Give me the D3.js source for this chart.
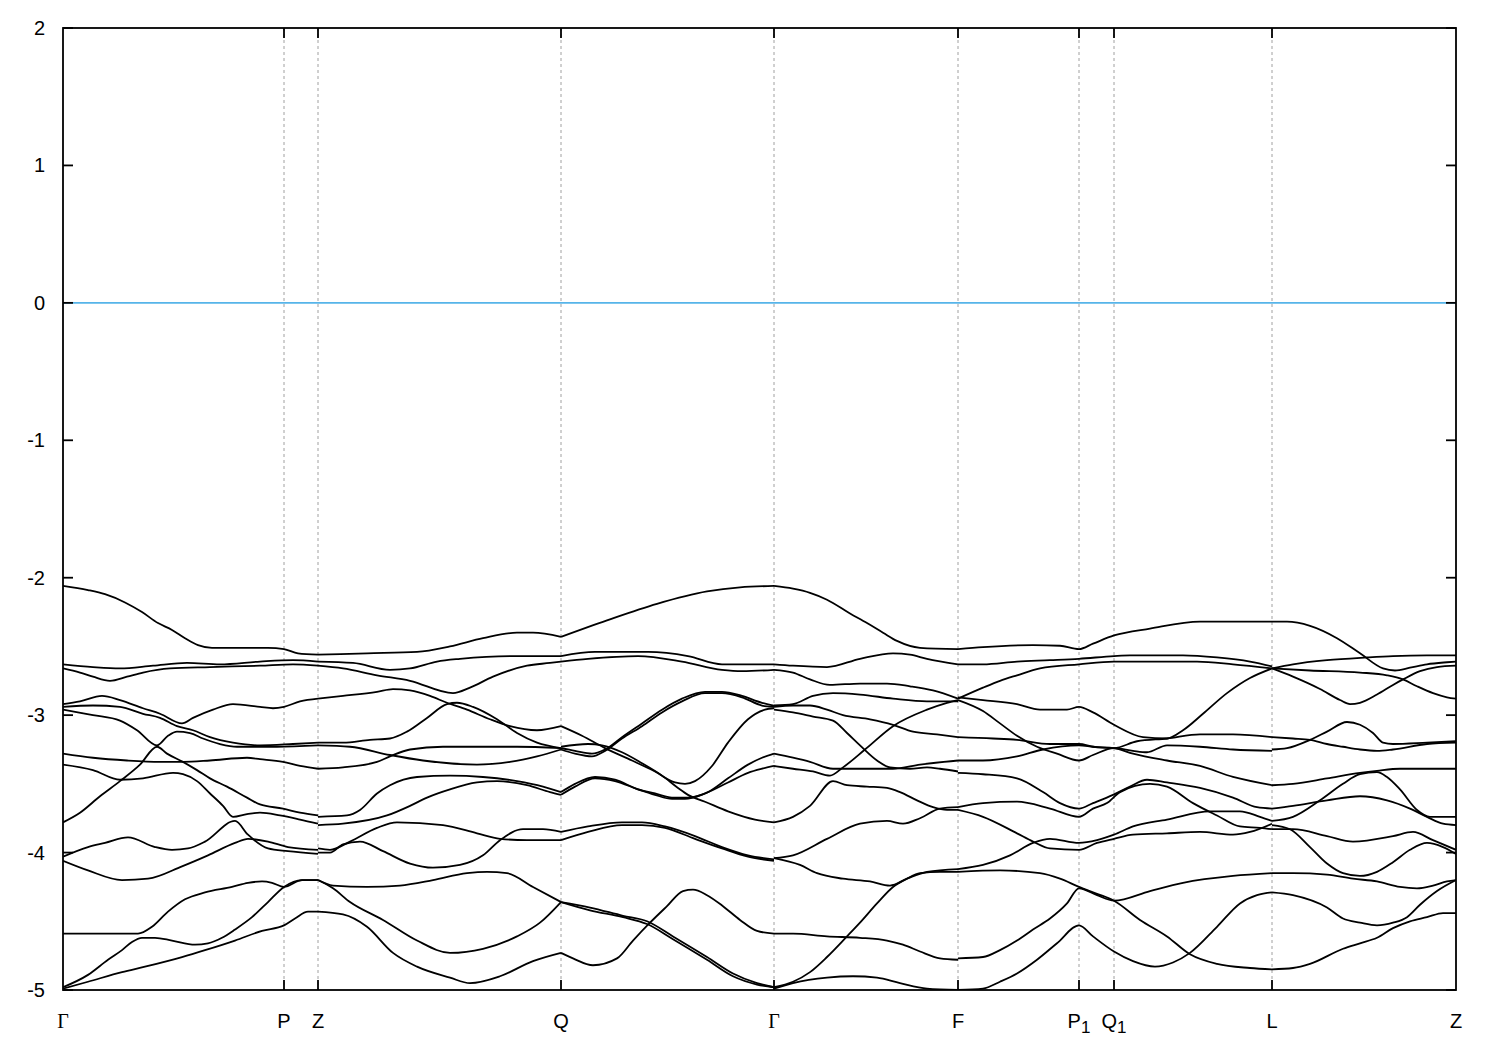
<!DOCTYPE html>
<html>
<head>
<meta charset="utf-8">
<script src="https://cdn.jsdelivr.net/npm/d3@7"></script>
<style>
  html, body { margin: 0; padding: 0; background: #fff; }
  svg { display: block; }
</style>
</head>
<body>
<svg id="chart" width="1500" height="1050"></svg>
<script>
// High-symmetry points along the k-path (path distance, arbitrary units)
const kTicks = [0, 221, 255, 498, 711, 895, 1016, 1051, 1209, 1393];
const kLabels = ["Γ", "P", "Z", "Q", "Γ", "F", "P1", "Q1", "L", "Z"];
const yTicks = [2, 1, 0, -1, -2, -3, -4, -5];
const fermiLevel = 0;

// Band energies (eV) as [k, E] pairs, grouped by path segment
const bandsGammaZ = [
  [[0,-2.06],[25,-2.09],[42,-2.12],[62,-2.18],[79,-2.25],[95,-2.33],[109,-2.38],[122,-2.44],[135,-2.49],[149,-2.51],[205,-2.51],[221,-2.52],[235,-2.55],[255,-2.56]],
  [[0,-2.63],[30,-2.65],[57,-2.66],[90,-2.64],[124,-2.62],[157,-2.63],[197,-2.61],[230,-2.60],[255,-2.61]],
  [[0,-2.66],[17,-2.69],[30,-2.72],[47,-2.75],[64,-2.72],[80,-2.69],[107,-2.66],[147,-2.65],[197,-2.64],[230,-2.63],[255,-2.64]],
  [[0,-2.92],[17,-2.90],[39,-2.86],[57,-2.89],[80,-2.95],[97,-2.99],[119,-3.06],[130,-3.02],[150,-2.96],[170,-2.92],[197,-2.94],[210,-2.95],[221,-2.94],[237,-2.90],[255,-2.88]],
  [[0,-2.94],[30,-2.93],[57,-2.94],[80,-2.99],[97,-3.02],[114,-3.08],[130,-3.11],[147,-3.16],[170,-3.20],[197,-3.22],[230,-3.21],[255,-3.20]],
  [[0,-2.96],[30,-3.00],[57,-3.04],[74,-3.11],[94,-3.22],[105,-3.15],[114,-3.12],[127,-3.13],[140,-3.17],[157,-3.21],[174,-3.23],[214,-3.23],[255,-3.22]],
  [[0,-3.78],[17,-3.71],[37,-3.59],[57,-3.48],[77,-3.36],[94,-3.23],[104,-3.28],[120,-3.34],[134,-3.40],[147,-3.46],[164,-3.52],[184,-3.60],[197,-3.65],[220,-3.68],[237,-3.71],[255,-3.73]],
  [[0,-3.28],[30,-3.31],[64,-3.33],[97,-3.34],[120,-3.34],[147,-3.33],[184,-3.31],[197,-3.32],[220,-3.34],[237,-3.37],[255,-3.39]],
  [[0,-3.36],[30,-3.40],[57,-3.47],[80,-3.46],[110,-3.42],[120,-3.43],[134,-3.48],[147,-3.57],[160,-3.66],[170,-3.74],[184,-3.72],[197,-3.71],[217,-3.73],[237,-3.76],[255,-3.79]],
  [[0,-4.03],[25,-3.96],[42,-3.93],[65,-3.89],[92,-3.96],[109,-3.98],[125,-3.97],[142,-3.92],[172,-3.77],[185,-3.87],[205,-3.97],[225,-3.99],[255,-4.01]],
  [[0,-4.06],[25,-4.13],[59,-4.20],[85,-4.19],[119,-4.10],[145,-4.02],[172,-3.93],[185,-3.90],[205,-3.92],[225,-3.96],[255,-3.98]],
  [[0,-4.59],[75,-4.59],[89,-4.54],[105,-4.43],[122,-4.34],[142,-4.29],[169,-4.25],[185,-4.22],[199,-4.21],[209,-4.22],[221,-4.25],[239,-4.20],[255,-4.20]],
  [[0,-4.98],[25,-4.89],[45,-4.78],[59,-4.71],[69,-4.65],[79,-4.62],[92,-4.62],[109,-4.64],[132,-4.67],[145,-4.66],[159,-4.62],[172,-4.56],[189,-4.47],[205,-4.36],[221,-4.25],[239,-4.20],[255,-4.20]],
  [[0,-4.99],[25,-4.94],[59,-4.87],[82,-4.83],[119,-4.76],[142,-4.71],[172,-4.64],[199,-4.57],[221,-4.53],[232,-4.48],[245,-4.43],[255,-4.43]]
];

const bandsZQ = [
  [[255,-2.56],[304,-2.55],[354,-2.54],[387,-2.50],[420,-2.44],[454,-2.40],[470,-2.40],[498,-2.43]],
  [[255,-2.61],[290,-2.62],[327,-2.67],[347,-2.66],[374,-2.61],[397,-2.59],[447,-2.57],[498,-2.57]],
  [[255,-2.64],[280,-2.66],[314,-2.71],[347,-2.75],[390,-2.84],[407,-2.80],[430,-2.72],[464,-2.64],[487,-2.62],[498,-2.61]],
  [[255,-2.88],[280,-2.86],[314,-2.83],[330,-2.81],[347,-2.82],[367,-2.86],[384,-2.91],[404,-2.96],[427,-3.03],[447,-3.08],[474,-3.11],[498,-3.08]],
  [[255,-3.20],[280,-3.20],[307,-3.18],[327,-3.17],[344,-3.12],[364,-3.02],[384,-2.92],[394,-2.91],[410,-2.94],[434,-3.03],[454,-3.13],[474,-3.20],[498,-3.24]],
  [[255,-3.22],[287,-3.23],[327,-3.29],[360,-3.33],[414,-3.36],[447,-3.34],[474,-3.30],[498,-3.25]],
  [[255,-3.39],[280,-3.38],[314,-3.34],[327,-3.30],[347,-3.25],[380,-3.23],[420,-3.23],[454,-3.23],[498,-3.24]],
  [[255,-3.74],[284,-3.73],[297,-3.69],[314,-3.57],[327,-3.51],[354,-3.45],[387,-3.44],[420,-3.45],[454,-3.48],[480,-3.52],[498,-3.56]],
  [[255,-3.80],[280,-3.79],[324,-3.73],[347,-3.66],[364,-3.60],[387,-3.54],[414,-3.49],[434,-3.48],[464,-3.51],[487,-3.56],[498,-3.58]],
  [[255,-3.97],[267,-3.98],[287,-3.92],[314,-3.82],[334,-3.78],[380,-3.80],[414,-3.86],[437,-3.90],[464,-3.91],[498,-3.91]],
  [[255,-4.00],[267,-4.00],[280,-3.94],[297,-3.92],[320,-3.99],[347,-4.08],[370,-4.11],[397,-4.09],[420,-4.02],[437,-3.91],[460,-3.83],[480,-3.83],[498,-3.85]],
  [[255,-4.20],[270,-4.24],[304,-4.25],[337,-4.24],[370,-4.20],[404,-4.15],[424,-4.14],[444,-4.15],[470,-4.25],[498,-4.36]],
  [[255,-4.20],[270,-4.26],[287,-4.36],[320,-4.49],[354,-4.64],[387,-4.73],[420,-4.70],[454,-4.61],[477,-4.51],[498,-4.36]],
  [[255,-4.43],[280,-4.45],[304,-4.54],[330,-4.73],[354,-4.83],[387,-4.91],[407,-4.95],[437,-4.90],[470,-4.79],[498,-4.73]]
];

const bandsQGamma = [
  [[498,-2.43],[544,-2.31],[594,-2.19],[644,-2.10],[677,-2.07],[711,-2.06]],
  [[498,-2.57],[532,-2.54],[585,-2.54],[625,-2.57],[659,-2.63],[692,-2.63],[711,-2.63]],
  [[498,-2.61],[525,-2.59],[575,-2.57],[619,-2.61],[659,-2.67],[679,-2.68],[711,-2.67]],
  [[498,-3.08],[519,-3.15],[542,-3.24],[569,-3.33],[592,-3.41],[612,-3.49],[622,-3.50],[632,-3.48],[649,-3.37],[665,-3.20],[685,-3.03],[702,-2.96],[711,-2.95]],
  [[498,-3.23],[525,-3.21],[539,-3.22],[559,-3.27],[579,-3.35],[599,-3.44],[615,-3.53],[625,-3.58],[642,-3.63],[665,-3.70],[692,-3.76],[711,-3.78]],
  [[498,-3.24],[512,-3.26],[529,-3.28],[542,-3.25],[559,-3.16],[579,-3.06],[599,-2.96],[619,-2.88],[642,-2.83],[659,-2.83],[679,-2.86],[699,-2.91],[711,-2.93]],
  [[498,-3.25],[512,-3.28],[529,-3.30],[542,-3.26],[559,-3.17],[579,-3.08],[599,-2.98],[619,-2.90],[642,-2.84],[659,-2.84],[679,-2.87],[699,-2.93],[711,-2.94]],
  [[498,-3.56],[512,-3.50],[532,-3.45],[552,-3.47],[575,-3.54],[592,-3.57],[609,-3.60],[625,-3.60],[645,-3.56],[665,-3.46],[685,-3.36],[699,-3.31],[711,-3.28]],
  [[498,-3.58],[512,-3.52],[532,-3.46],[552,-3.48],[575,-3.54],[592,-3.58],[609,-3.61],[622,-3.61],[642,-3.57],[665,-3.49],[685,-3.42],[699,-3.39],[711,-3.37]],
  [[498,-3.85],[525,-3.81],[559,-3.78],[579,-3.78],[602,-3.81],[632,-3.88],[659,-3.96],[685,-4.02],[711,-4.05]],
  [[498,-3.91],[525,-3.85],[559,-3.80],[579,-3.80],[602,-3.82],[632,-3.90],[659,-3.97],[685,-4.03],[711,-4.06]],
  [[498,-4.36],[527,-4.40],[560,-4.46],[584,-4.50],[610,-4.61],[644,-4.76],[670,-4.88],[694,-4.95],[711,-4.98]],
  [[498,-4.36],[527,-4.42],[560,-4.47],[584,-4.52],[610,-4.63],[644,-4.78],[670,-4.90],[694,-4.96],[711,-4.98]],
  [[498,-4.73],[510,-4.77],[530,-4.82],[554,-4.77],[570,-4.64],[587,-4.51],[604,-4.39],[620,-4.28],[630,-4.27],[644,-4.31],[660,-4.39],[677,-4.49],[694,-4.57],[711,-4.59]]
];

const bandsGammaF = [
  [[711,-2.06],[730,-2.08],[747,-2.11],[764,-2.16],[787,-2.26],[804,-2.33],[820,-2.40],[834,-2.46],[857,-2.51],[895,-2.52]],
  [[711,-2.63],[730,-2.64],[764,-2.65],[797,-2.59],[830,-2.55],[847,-2.56],[864,-2.59],[895,-2.63]],
  [[711,-2.67],[730,-2.69],[747,-2.74],[767,-2.78],[797,-2.77],[824,-2.77],[847,-2.79],[870,-2.82],[895,-2.88]],
  [[711,-2.93],[730,-2.92],[750,-2.86],[770,-2.84],[797,-2.85],[830,-2.88],[864,-2.90],[895,-2.90]],
  [[711,-2.94],[730,-2.93],[747,-2.93],[764,-2.96],[780,-3.00],[807,-3.03],[830,-3.07],[850,-3.12],[874,-3.14],[895,-3.16]],
  [[711,-2.96],[730,-2.98],[750,-3.01],[770,-3.04],[784,-3.13],[797,-3.22],[814,-3.33],[827,-3.38],[847,-3.39],[864,-3.38],[877,-3.39],[895,-3.41]],
  [[711,-3.37],[730,-3.39],[750,-3.41],[767,-3.44],[780,-3.38],[802,-3.25],[830,-3.08],[864,-2.96],[884,-2.91],[895,-2.89]],
  [[711,-3.28],[730,-3.31],[747,-3.34],[770,-3.39],[797,-3.39],[830,-3.39],[857,-3.36],[895,-3.33]],
  [[711,-3.78],[730,-3.74],[747,-3.66],[770,-3.48],[784,-3.51],[804,-3.52],[824,-3.53],[837,-3.56],[854,-3.62],[870,-3.67],[884,-3.69],[895,-3.69]],
  [[711,-4.04],[730,-4.02],[764,-3.90],[797,-3.79],[824,-3.77],[840,-3.79],[857,-3.75],[877,-3.68],[895,-3.67]],
  [[711,-4.04],[737,-4.09],[754,-4.15],[780,-4.19],[807,-4.21],[827,-4.24],[844,-4.19],[864,-4.14],[895,-4.12]],
  [[711,-4.98],[730,-4.94],[747,-4.87],[764,-4.76],[784,-4.61],[797,-4.51],[814,-4.37],[830,-4.25],[844,-4.19],[857,-4.15],[877,-4.14],[895,-4.14]],
  [[711,-4.59],[730,-4.59],[764,-4.61],[797,-4.62],[824,-4.64],[840,-4.67],[857,-4.72],[877,-4.77],[895,-4.78]],
  [[711,-4.99],[730,-4.95],[764,-4.91],[790,-4.90],[814,-4.91],[837,-4.95],[864,-4.99],[895,-5.00]]
];

const bandsFL = [
  [[895,-2.52],[920,-2.505],[970,-2.49],[997,-2.495],[1016,-2.52],[1030,-2.48],[1051,-2.42],[1087,-2.37],[1137,-2.32],[1209,-2.32]],
  [[895,-2.63],[920,-2.63],[954,-2.61],[987,-2.60],[1016,-2.59],[1051,-2.57],[1067,-2.565],[1120,-2.565],[1154,-2.58],[1187,-2.61],[1209,-2.645]],
  [[895,-2.88],[920,-2.80],[937,-2.75],[954,-2.71],[977,-2.66],[1016,-2.63],[1051,-2.61],[1087,-2.61],[1134,-2.61],[1170,-2.63],[1209,-2.66]],
  [[895,-2.87],[920,-2.89],[954,-2.92],[977,-2.96],[1004,-2.96],[1016,-2.94],[1030,-2.98],[1051,-3.07],[1080,-3.16],[1104,-3.17],[1120,-3.11],[1140,-2.99],[1164,-2.84],[1187,-2.73],[1209,-2.66]],
  [[895,-2.89],[920,-2.97],[937,-3.06],[954,-3.15],[974,-3.23],[994,-3.28],[1016,-3.33],[1030,-3.29],[1051,-3.24],[1070,-3.26],[1084,-3.27],[1104,-3.22],[1137,-3.23],[1170,-3.25],[1209,-3.26]],
  [[895,-3.16],[930,-3.17],[954,-3.18],[987,-3.21],[1016,-3.21],[1030,-3.23],[1051,-3.24],[1070,-3.28],[1104,-3.33],[1137,-3.37],[1170,-3.45],[1209,-3.51]],
  [[895,-3.33],[920,-3.33],[954,-3.30],[980,-3.25],[1016,-3.22],[1030,-3.23],[1051,-3.24],[1074,-3.19],[1104,-3.17],[1137,-3.14],[1170,-3.14],[1209,-3.16]],
  [[895,-3.42],[920,-3.43],[954,-3.46],[980,-3.56],[997,-3.64],[1016,-3.68],[1030,-3.64],[1050,-3.58],[1067,-3.52],[1084,-3.47],[1104,-3.49],[1137,-3.53],[1170,-3.60],[1194,-3.67],[1209,-3.68]],
  [[895,-3.67],[920,-3.64],[954,-3.63],[987,-3.68],[1016,-3.74],[1030,-3.68],[1044,-3.64],[1057,-3.56],[1087,-3.50],[1104,-3.52],[1130,-3.64],[1154,-3.73],[1177,-3.81],[1197,-3.82],[1209,-3.83]],
  [[895,-3.69],[920,-3.74],[954,-3.86],[970,-3.92],[987,-3.97],[1016,-3.98],[1034,-3.93],[1051,-3.90],[1070,-3.87],[1104,-3.86],[1137,-3.85],[1170,-3.87],[1187,-3.85],[1209,-3.79]],
  [[895,-4.12],[920,-4.09],[947,-4.02],[970,-3.93],[987,-3.90],[1016,-3.93],[1034,-3.91],[1051,-3.87],[1070,-3.81],[1104,-3.76],[1147,-3.70],[1177,-3.70],[1197,-3.74],[1209,-3.77]],
  [[895,-4.14],[937,-4.13],[977,-4.15],[997,-4.19],[1016,-4.25],[1034,-4.30],[1051,-4.35],[1077,-4.49],[1104,-4.61],[1127,-4.74],[1154,-4.81],[1187,-4.84],[1209,-4.85]],
  [[895,-4.77],[920,-4.76],[937,-4.71],[954,-4.64],[970,-4.56],[987,-4.48],[1004,-4.37],[1016,-4.26],[1034,-4.31],[1051,-4.35],[1087,-4.28],[1120,-4.22],[1170,-4.17],[1209,-4.15]],
  [[895,-5.00],[920,-4.99],[937,-4.94],[954,-4.88],[974,-4.78],[994,-4.66],[1016,-4.53],[1030,-4.61],[1051,-4.72],[1070,-4.79],[1092,-4.83],[1110,-4.80],[1127,-4.73],[1154,-4.54],[1177,-4.37],[1194,-4.31],[1209,-4.29]]
];

const bandsLZ = [
  [[1209,-2.32],[1224,-2.32],[1247,-2.35],[1274,-2.44],[1297,-2.55],[1320,-2.66],[1332,-2.675],[1347,-2.655],[1364,-2.63],[1384,-2.615],[1393,-2.61]],
  [[1209,-2.66],[1230,-2.63],[1264,-2.60],[1304,-2.58],[1330,-2.57],[1364,-2.565],[1393,-2.565]],
  [[1209,-2.66],[1247,-2.675],[1297,-2.69],[1324,-2.71],[1340,-2.74],[1354,-2.79],[1370,-2.84],[1384,-2.87],[1393,-2.88]],
  [[1209,-2.66],[1230,-2.72],[1257,-2.81],[1277,-2.89],[1287,-2.92],[1297,-2.91],[1314,-2.85],[1330,-2.78],[1340,-2.74],[1357,-2.68],[1374,-2.65],[1393,-2.64]],
  [[1209,-3.16],[1230,-3.17],[1247,-3.18],[1264,-3.21],[1280,-3.23],[1297,-3.25],[1314,-3.26],[1330,-3.25],[1364,-3.21],[1393,-3.20]],
  [[1209,-3.25],[1224,-3.24],[1247,-3.18],[1264,-3.12],[1284,-3.05],[1297,-3.07],[1310,-3.13],[1320,-3.20],[1330,-3.21],[1364,-3.20],[1393,-3.19]],
  [[1209,-3.51],[1230,-3.50],[1264,-3.46],[1297,-3.42],[1314,-3.405],[1337,-3.39],[1364,-3.39],[1393,-3.39]],
  [[1209,-3.68],[1230,-3.66],[1264,-3.62],[1297,-3.59],[1324,-3.62],[1347,-3.68],[1364,-3.74],[1380,-3.79],[1393,-3.80]],
  [[1209,-3.77],[1230,-3.74],[1257,-3.62],[1280,-3.50],[1297,-3.43],[1314,-3.415],[1324,-3.45],[1337,-3.54],[1354,-3.69],[1367,-3.74],[1393,-3.74]],
  [[1209,-3.80],[1227,-3.83],[1247,-3.96],[1264,-4.08],[1280,-4.15],[1297,-4.17],[1314,-4.14],[1330,-4.07],[1347,-3.98],[1364,-3.93],[1380,-3.96],[1393,-4.01]],
  [[1209,-3.83],[1230,-3.83],[1264,-3.88],[1290,-3.92],[1330,-3.88],[1350,-3.85],[1370,-3.91],[1393,-3.98]],
  [[1209,-4.15],[1230,-4.15],[1264,-4.16],[1290,-4.19],[1314,-4.21],[1337,-4.25],[1354,-4.26],[1370,-4.24],[1384,-4.21],[1393,-4.20]],
  [[1209,-4.29],[1230,-4.31],[1264,-4.40],[1280,-4.48],[1297,-4.51],[1314,-4.53],[1330,-4.51],[1344,-4.47],[1357,-4.38],[1374,-4.28],[1393,-4.20]],
  [[1209,-4.85],[1230,-4.84],[1247,-4.81],[1280,-4.70],[1297,-4.66],[1314,-4.62],[1330,-4.55],[1347,-4.50],[1364,-4.47],[1380,-4.44],[1393,-4.44]]
];

// ---------------- drawing ----------------
(function () {
  const svg = d3.select("#chart");
  const pL = 63, pR = 1456, pT = 28, pB = 990;
  const sw = 1.8;

  const x = d3.scaleLinear().domain([0, 1393]).range([pL, pR]);
  const y = d3.scaleLinear().domain([-5, 2]).range([pB, pT]);

  svg.append("rect").attr("width", 1500).attr("height", 1050).attr("fill", "#fff");

  svg.append("defs").append("clipPath").attr("id", "plotclip")
    .append("rect").attr("x", pL).attr("y", pT).attr("width", pR - pL).attr("height", pB - pT);

  // dashed vertical lines at high-symmetry points
  svg.append("g").selectAll("line")
    .data(kTicks.filter((k, i) => i > 0 && i < kTicks.length - 1))
    .join("line")
    .attr("x1", d => x(d)).attr("x2", d => x(d))
    .attr("y1", pT).attr("y2", pB)
    .attr("stroke", "#a0a0a0").attr("stroke-width", 1)
    .attr("stroke-dasharray", "3,3");

  // Fermi level
  svg.append("line")
    .attr("x1", pL).attr("x2", pR)
    .attr("y1", y(fermiLevel)).attr("y2", y(fermiLevel))
    .attr("stroke", "#56b4e9").attr("stroke-width", sw);

  // bands
  const line = d3.line().x(d => x(d[0])).y(d => y(d[1])).curve(d3.curveMonotoneX);
  const allSegments = [bandsGammaZ, bandsZQ, bandsQGamma, bandsGammaF, bandsFL, bandsLZ];
  const gb = svg.append("g").attr("clip-path", "url(#plotclip)");
  allSegments.forEach(seg => {
    gb.append("g").selectAll("path").data(seg).join("path")
      .attr("d", line)
      .attr("fill", "none")
      .attr("stroke", "#000")
      .attr("stroke-width", sw)
      .attr("stroke-linejoin", "round");
  });

  // frame
  svg.append("rect")
    .attr("x", pL).attr("y", pT).attr("width", pR - pL).attr("height", pB - pT)
    .attr("fill", "none").attr("stroke", "#000").attr("stroke-width", sw);

  // y ticks (left & right, inward) and labels
  const gy = svg.append("g");
  yTicks.forEach(v => {
    gy.append("line").attr("x1", pL).attr("x2", pL + 10).attr("y1", y(v)).attr("y2", y(v))
      .attr("stroke", "#000").attr("stroke-width", sw);
    gy.append("line").attr("x1", pR - 10).attr("x2", pR).attr("y1", y(v)).attr("y2", y(v))
      .attr("stroke", "#000").attr("stroke-width", sw);
    gy.append("text").attr("x", 45).attr("y", y(v))
      .attr("text-anchor", "end").attr("dominant-baseline", "central")
      .attr("font-family", "'Liberation Sans', Arial, sans-serif").attr("font-size", 20)
      .attr("fill", "#000")
      .text(String(v));
  });

  // x ticks (top & bottom, inward) and labels
  const gx = svg.append("g");
  kTicks.forEach((k, i) => {
    if (i > 0 && i < kTicks.length - 1) {
      gx.append("line").attr("x1", x(k)).attr("x2", x(k)).attr("y1", pB).attr("y2", pB - 10)
        .attr("stroke", "#000").attr("stroke-width", sw);
      gx.append("line").attr("x1", x(k)).attr("x2", x(k)).attr("y1", pT).attr("y2", pT + 10)
        .attr("stroke", "#000").attr("stroke-width", sw);
    }
    const lab = kLabels[i];
    const t = gx.append("text").attr("x", x(k)).attr("y", 1028)
      .attr("text-anchor", "middle")
      .attr("font-size", 20).attr("fill", "#000");
    if (lab === "Γ") {
      t.attr("font-family", "'Liberation Serif', 'Times New Roman', serif").text("Γ");
    } else if (lab.length === 2 && /\d/.test(lab[1])) {
      t.attr("font-family", "'Liberation Sans', Arial, sans-serif");
      t.append("tspan").text(lab[0]);
      t.append("tspan").attr("dy", 5).attr("font-size", 17).text(lab[1]);
    } else {
      t.attr("font-family", "'Liberation Sans', Arial, sans-serif").text(lab);
    }
  });
})();
</script>
</body>
</html>
